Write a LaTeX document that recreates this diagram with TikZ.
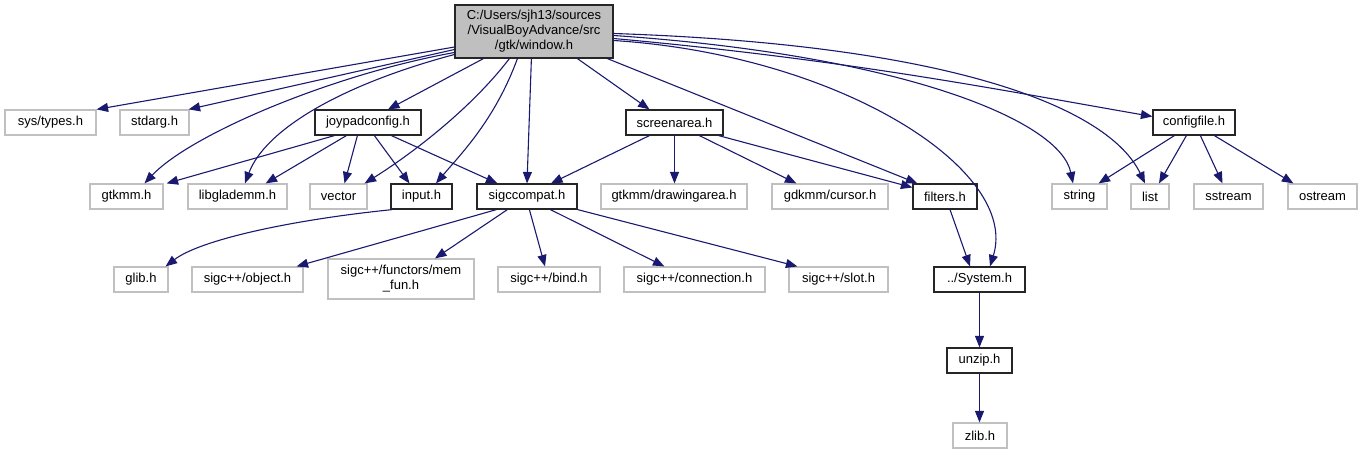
\documentclass[tikz,border=0pt]{standalone}
\usepackage{fontspec}
\setmainfont{Liberation Sans}
\usetikzlibrary{arrows.meta,calc}
\definecolor{edgecol}{HTML}{191970}
\definecolor{graybd}{HTML}{C0C0C0}
\definecolor{rootfill}{HTML}{BFBFBF}
\tikzset{
  base/.style={draw, rectangle, inner sep=0pt, align=center, font=\fontsize{13}{15}\selectfont, line width=1.2pt},
  gbox/.style={base, draw=graybd, fill=white, minimum height=25pt},
  bbox/.style={base, draw=black!85, fill=white, minimum height=25pt},
  rbox/.style={base, draw=black!85, fill=rootfill},
  dep/.style={draw=edgecol, line width=1.1pt, -{Triangle[length=11.5pt,width=9pt]}}
}
\begin{document}
\begin{tikzpicture}[x=1pt,y=-1pt]
\useasboundingbox (0,0) rectangle (1363,455);
% root
\node[rbox, minimum width=158pt, minimum height=53pt] (root) at (534,31.5) {C:/Users/sjh13/sources\\/VisualBoyAdvance/src\\/gtk/window.h};
% row 1
\node[gbox, minimum width=91pt] (systypes) at (50.5,122.5) {sys/types.h};
\node[gbox, minimum width=69pt] (stdarg) at (154.5,122.5) {stdarg.h};
\node[bbox, minimum width=106pt] (joypad) at (368,122.5) {joypadconfig.h};
\node[bbox, minimum width=97pt] (screen) at (674.5,122.5) {screenarea.h};
\node[bbox, minimum width=82pt] (config) at (1194,122.5) {configfile.h};
% row 2
\node[gbox, minimum width=73pt] (gtkmm) at (126.5,196.5) {gtkmm.h};
\node[gbox, minimum width=99pt] (glade) at (237.5,196.5) {libglademm.h};
\node[gbox, minimum width=57pt] (vector) at (338.5,196.5) {vector};
\node[bbox, minimum width=61pt] (input) at (421.5,196.5) {input.h};
\node[bbox, minimum width=100pt] (sigc) at (527,196.5) {sigccompat.h};
\node[gbox, minimum width=146pt] (draw) at (674,196.5) {gtkmm/drawingarea.h};
\node[gbox, minimum width=116pt] (cursor) at (830,196.5) {gdkmm/cursor.h};
\node[bbox, minimum width=64pt] (filters) at (945,196.5) {filters.h};
\node[gbox, minimum width=55pt] (string) at (1079.5,196.5) {string};
\node[gbox, minimum width=38pt] (list) at (1150,196.5) {list};
\node[gbox, minimum width=69pt] (sstream) at (1228.5,196.5) {sstream};
\node[gbox, minimum width=69pt] (ostream) at (1322.5,196.5) {ostream};
% row 3
\node[gbox, minimum width=54pt] (glib) at (141,279.5) {glib.h};
\node[gbox, minimum width=111pt] (object) at (247.5,279.5) {sigc++/object.h};
\node[gbox, minimum width=146pt, minimum height=40pt] (memfun) at (401,279) {sigc++/functors/mem\\\_fun.h};
\node[gbox, minimum width=102pt] (bind) at (549,279.5) {sigc++/bind.h};
\node[gbox, minimum width=141pt] (conn) at (694.5,279.5) {sigc++/connection.h};
\node[gbox, minimum width=99pt] (slot) at (838.5,279.5) {sigc++/slot.h};
\node[bbox, minimum width=91pt] (system) at (979.5,279.5) {../System.h};
% rows 4-5
\node[bbox, minimum width=65pt] (unzip) at (979.5,360.5) {unzip.h};
\node[gbox, minimum width=54pt] (zlib) at (980,435.5) {zlib.h};

% edges from root
\draw[dep] ($(root.west)+(0,15.5)$) -- (systypes.north east);
\draw[dep] ($(root.west)+(0,18)$) -- ($(stdarg.north east)+(-1,0)$);
\draw[dep] ($(root.west)+(0,21)$) .. controls (330,75) and (190,135) .. ($(gtkmm.north)+(18,0)$);
\draw[dep] ($(root.west)+(0,23)$) .. controls (340,85) and (265,130) .. ($(glade.north)+(7.5,0)$);
\draw[dep] ($(root.south west)+(29,0)$) -- ($(joypad.north)+(20,0)$);
\draw[dep] ($(root.south west)+(55,0)$) .. controls (470,110) and (410,155) .. ($(vector.north east)+(-3,0)$);
\draw[dep] ($(root.south west)+(63,0)$) .. controls (495,120) and (460,155) .. ($(input.north)+(14.5,0)$);
\draw[dep] ($(root.south west)+(77,0)$) -- (sigc.north);
\draw[dep] ($(root.south west)+(123,0)$) -- ($(screen.north)+(-25,0)$);
\draw[dep] ($(root.south west)+(153,0)$) -- ($(filters.north west)+(5,0)$);
\draw[dep] ($(root.east)+(0,9)$) .. controls (840,55) and (1020,170) .. ($(system.north)+(10.5,0)$);
\draw[dep] ($(root.east)+(0,4)$) .. controls (900,55) and (1060,120) .. ($(string.north)+(-6.5,0)$);
\draw[dep] ($(root.east)+(0,2)$) .. controls (960,45) and (1110,110) .. ($(list.north)+(-5,0)$);
\draw[dep] ($(root.east)+(0,7)$) .. controls (850,60) and (1000,90) .. ($(config.west)+(0,-6)$);
% joypadconfig
\draw[dep] ($(joypad.south west)+(20,0)$) -- ($(gtkmm.north east)+(3,0)$);
\draw[dep] ($(joypad.south west)+(32,0)$) -- ($(glade.north east)+(-22,0)$);
\draw[dep] ($(joypad.south west)+(43,0)$) -- ($(vector.north)+(6,0)$);
\draw[dep] ($(joypad.south west)+(60,0)$) -- ($(input.north)+(-12,0)$);
\draw[dep] ($(joypad.south west)+(77,0)$) -- ($(sigc.north west)+(21,0)$);
% screenarea
\draw[dep] ($(screen.south west)+(24,0)$) -- ($(sigc.north)+(24,0)$);
\draw[dep] (screen.south) -- ($(draw.north)+(0.5,0)$);
\draw[dep] ($(screen.south west)+(74,0)$) -- ($(cursor.north west)+(25,0)$);
\draw[dep] ($(screen.south east)+(-5,0)$) -- ($(filters.west)+(0,-9)$);
% configfile
\draw[dep] ($(config.south west)+(22,0)$) -- ($(string.north east)+(-9,0)$);
\draw[dep] ($(config.south west)+(34,0)$) -- ($(list.north)+(9,0)$);
\draw[dep] ($(config.south west)+(48,0)$) -- ($(sstream.north)+(-6,0)$);
\draw[dep] ($(config.south west)+(62,0)$) -- ($(ostream.north west)+(6,0)$);
% input
\draw[dep] ($(input.south west)+(2,0)$) .. controls (290,220) and (200,240) .. ($(glib.north east)+(-3,0)$);
% sigccompat
\draw[dep] ($(sigc.south west)+(20,0)$) -- ($(object.north east)+(-7,0)$);
\draw[dep] ($(sigc.south west)+(31,0)$) -- ($(memfun.north)+(34,0)$);
\draw[dep] ($(sigc.south west)+(53,0)$) -- ($(bind.north)+(-4,0)$);
\draw[dep] ($(sigc.south west)+(74,0)$) -- ($(conn.north west)+(41,0)$);
\draw[dep] ($(sigc.south east)+(0,0)$) -- ($(slot.north west)+(9,0)$);
% filters / system chain
\draw[dep] ($(filters.south)+(5,0)$) -- ($(system.north)+(-9.5,0)$);
\draw[dep] (system.south) -- (unzip.north);
\draw[dep] (unzip.south) -- ($(zlib.north)+(-0.5,0)$);
\end{tikzpicture}
\end{document}
